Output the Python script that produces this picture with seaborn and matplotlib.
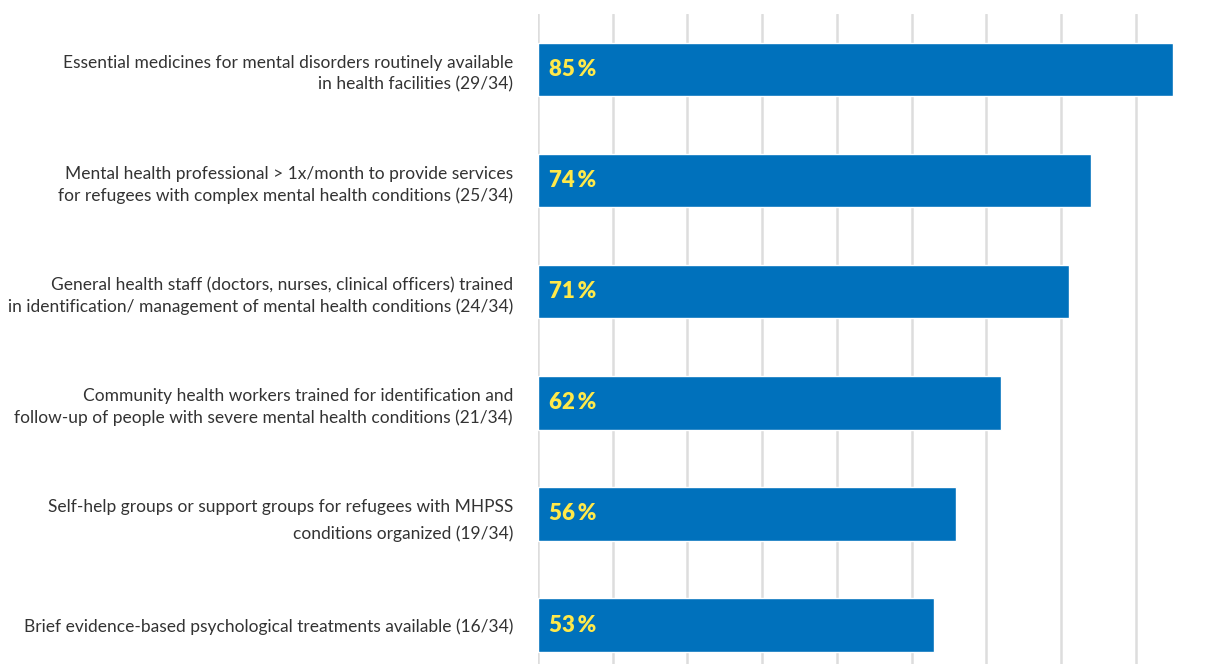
import matplotlib
matplotlib.use("Agg")
import matplotlib.pyplot as plt
import seaborn as sns
import pandas as pd

categories = [
    "Essential medicines for mental disorders routinely available\nin health facilities (29/34)",
    "Mental health professional > 1x/month to provide services\nfor refugees with complex mental health conditions (25/34)",
    "General health staff (doctors, nurses, clinical officers) trained\nin identification/ management of mental health conditions (24/34)",
    "Community health workers trained for identification and\nfollow-up of people with severe mental health conditions (21/34)",
    "Self-help groups or support groups for refugees with MHPSS\nconditions organized (19/34)",
    "Brief evidence-based psychological treatments available (16/34)",
]
values = [85, 74, 71, 62, 56, 53]
value_labels = ["85", "74", "71", "62", "56", "53"]

df = pd.DataFrame({"category": categories, "value": values})

sns.set_theme(style="white")
plt.rcParams["font.family"] = ["Lato", "DejaVu Sans"]

fig = plt.figure(figsize=(12.06, 6.64), dpi=100)
ax = fig.add_axes([538 / 1206, 0.0, 1 - 538 / 1206, 650 / 664])

sns.barplot(data=df, x="value", y="category", color="#0071BC", width=0.48,
            saturation=1, ax=ax, zorder=3)

ax.set_xlim(0, 89.4)
ax.set_ylim(5.35, -0.5)
ax.set_xticks(range(0, 90, 10))
ax.xaxis.grid(True, color="#dddddd", linewidth=1.8, zorder=0)
ax.set_axisbelow(True)
ax.tick_params(axis="x", length=0, labelbottom=False)
ax.tick_params(axis="y", length=0, pad=18)
ax.set_xlabel("")
ax.set_ylabel("")
for s in ax.spines.values():
    s.set_visible(False)

for i, lbl in enumerate(ax.get_yticklabels()):
    lbl.set_fontsize(12.5)
    lbl.set_color("#333333")
    lbl.set_horizontalalignment("right")
    lbl.set_linespacing(1.75 if i == 4 else 1.4)

for i, v in enumerate(value_labels):
    ax.text(1.5, i, v + "\u2009%", color="#FFE94A", fontsize=16,
            fontweight="heavy", va="center", ha="left", zorder=4,
            family=["Lato", "DejaVu Sans"])

fig.savefig("out.png", dpi=100)
